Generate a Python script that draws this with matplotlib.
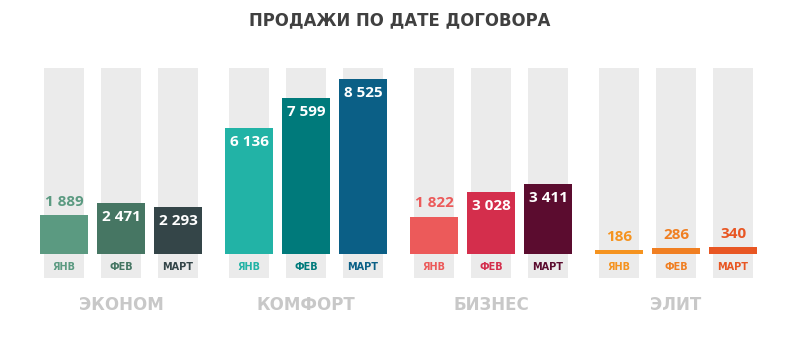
import matplotlib
matplotlib.use('Agg')
import matplotlib.pyplot as plt

# данные
segments = ['ЭКОНОМ', 'КОМФОРТ', 'БИЗНЕС', 'ЭЛИТ']
months = ['ЯНВ', 'ФЕВ', 'МАРТ']
econom = [1889, 2471, 2293]
comfort = [6136, 7599, 8525]
business = [1822, 3028, 3411]
elite = [186, 286, 340]
values = [econom, comfort, business, elite]

colors = [
    ['#5b9a81', '#467663', '#344548'],
    ['#22b3a6', '#007a7b', '#0b5f86'],
    ['#ec5a5a', '#d42e4c', '#5b0c2f'],
    ['#f5931f', '#f07f22', '#e85623'],
]

plt.rcParams['font.family'] = ['DejaVu Sans']
num_font = ['Open Sans', 'DejaVu Sans']   # цифры поуже

fig = plt.figure(figsize=(8, 3.38), dpi=100)
ax = fig.add_axes([0, 0, 1, 1])
ax.set_xlim(-1.123, 12.912)
ax.set_ylim(-4091, 12372)
ax.axis('off')

group_step = 3.246
bg_top, bg_bottom = 9060, -1170

for g, seg in enumerate(segments):
    xs = [g * group_step + m for m in range(3)]
    # серые подложки
    ax.bar(xs, [bg_top - bg_bottom] * 3, bottom=bg_bottom, width=0.70, color='#ebebeb', zorder=1)
    ax.bar(xs, values[g], width=0.84, color=colors[g], zorder=2)
    for m, x in enumerate(xs):
        v = values[g][m]
        txt = f'{v:,}'.replace(',', ' ')
        if v >= 2000:
            ax.annotate(txt, (x, v), xytext=(0, -10), textcoords='offset points',
                        ha='center', va='center', color='white', fontsize=11,
                        fontweight='bold', family=num_font, zorder=3)
        else:
            ax.annotate(txt, (x, v), xytext=(0, 9.5), textcoords='offset points',
                        ha='center', va='center', color=colors[g][m], fontsize=11,
                        fontweight='bold', family=num_font, zorder=3)
        ax.text(x, -633, months[m], ha='center', va='center', color=colors[g][m],
                fontsize=7, fontweight='bold', zorder=3)
    ax.text(xs[1], -2484, seg, ha='center', va='center', color='#c8c8c8',
            fontsize=12, fontweight='bold')

fig.text(0.5, 1 - 20 / 338, 'ПРОДАЖИ ПО ДАТЕ ДОГОВОРА', ha='center', va='center',
         color='#404040', fontsize=11.9, fontweight='bold')

fig.savefig('out.png', dpi=100)
